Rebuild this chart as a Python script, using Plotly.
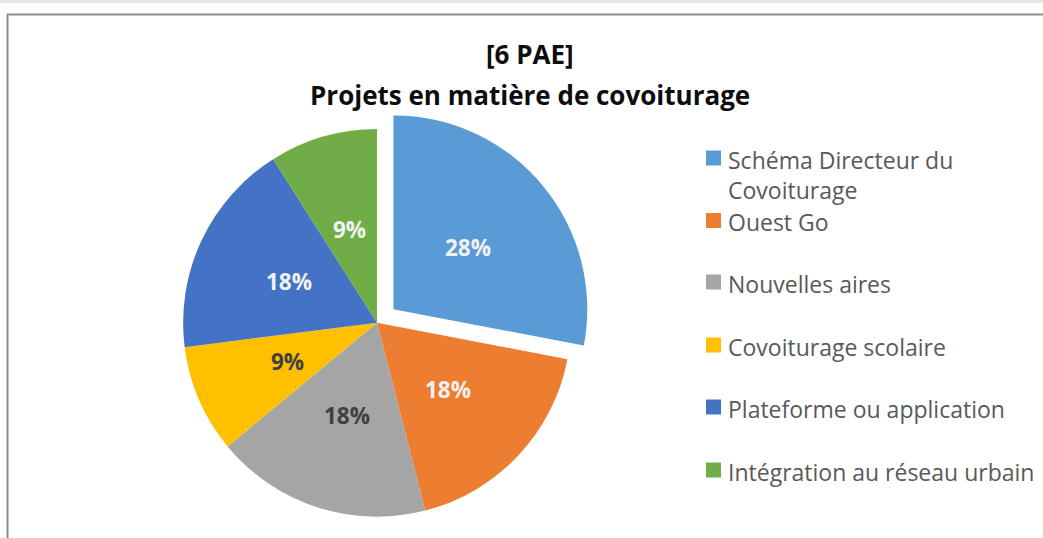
import math
import plotly.graph_objects as go

W, H = 1043, 538

labels = ["Schéma Directeur du Covoiturage", "Ouest Go", "Nouvelles aires",
          "Covoiturage scolaire", "Plateforme ou application", "Intégration au réseau urbain"]
legend_text = ["Schéma Directeur du<br>Covoiturage", "Ouest Go", "Nouvelles aires",
               "Covoiturage scolaire", "Plateforme ou application", "Intégration au réseau urbain"]
values = [28, 18, 18, 9, 18, 9]
colors = ["#5B9BD5", "#ED7D31", "#A5A5A5", "#FFC000", "#4472C4", "#70AD47"]
label_colors = ["#F2F2F2", "#F2F2F2", "#404040", "#404040", "#F2F2F2", "#F2F2F2"]
pulls = [0.11, 0, 0, 0, 0, 0]
title_lines = ["[6 PAE]", "Projets en matière de covoiturage"]

FONT = "Open Sans"

def px(x):
    return x / W

def py(y):
    return 1 - y / H

# pie geometry (pixels)
cx, cy, r = 377, 323, 194
half = r * (1 + max(pulls))

fig = go.Figure(go.Pie(
    labels=labels,
    values=values,
    marker=dict(colors=colors, line=dict(width=0)),
    pull=pulls,
    sort=False,
    direction="clockwise",
    rotation=0,
    textinfo="none",
    showlegend=False,
    hoverinfo="label+percent",
    domain=dict(x=[px(cx - half), px(cx + half)], y=[max(0, py(cy + half)), py(cy - half)]),
))

shapes = [
    dict(type="rect", xref="paper", yref="paper", x0=0, x1=1, y0=py(3), y1=1,
         fillcolor="#E6E6E6", line=dict(width=0), layer="below"),
    dict(type="line", xref="paper", yref="paper", x0=px(7.5), x1=px(7.5), y0=py(14), y1=py(560),
         line=dict(color="#8C8C8C", width=2)),
    dict(type="line", xref="paper", yref="paper", x0=px(7), x1=px(1060), y0=py(14.5), y1=py(14.5),
         line=dict(color="#8C8C8C", width=2)),
]
annotations = []

# data labels at half radius along each slice bisector (Excel-style)
total = sum(values)
cum = 0
for v, col, pl in zip(values, label_colors, pulls):
    mid = (cum + v / 2) / total * 2 * math.pi
    cum += v
    d = r * (0.5 + pl)
    lx = cx + d * math.sin(mid)
    ly = cy - d * math.cos(mid)
    annotations.append(dict(text=f"<b>{round(100 * v / total)}%</b>", xref="paper", yref="paper",
                            x=px(lx), y=py(ly), xanchor="center", yanchor="middle",
                            showarrow=False, font=dict(family=FONT, size=22.5, color=col)))

# title
for text, yc in zip(title_lines, [54, 95]):
    annotations.append(dict(text=f"<b>{text}</b>", xref="paper", yref="paper",
                            x=px(530), y=py(yc), xanchor="center", yanchor="middle",
                            showarrow=False, font=dict(family=FONT, size=26, color="#0D0D0D")))

# legend
leg_y = [158, 220.5, 282, 345, 407, 470]
for t, c, yc in zip(legend_text, colors, leg_y):
    shapes.append(dict(type="rect", xref="paper", yref="paper",
                       x0=px(706), x1=px(721), y0=py(yc + 7.5), y1=py(yc - 7.5),
                       fillcolor=c, line=dict(width=0)))
    annotations.append(dict(text=t, xref="paper", yref="paper", x=px(726), y=py(yc - 16.5),
                            xanchor="left", yanchor="top", align="left", showarrow=False,
                            font=dict(family=FONT, size=23, color="#595959")))

fig.update_layout(
    width=W, height=H,
    margin=dict(l=0, r=0, t=0, b=0),
    paper_bgcolor="white",
    plot_bgcolor="white",
    shapes=shapes,
    annotations=annotations,
)

fig.write_html("out.html", config={"displayModeBar": False},
               post_script="document.body.style.margin='0';document.body.style.overflow='hidden';")
